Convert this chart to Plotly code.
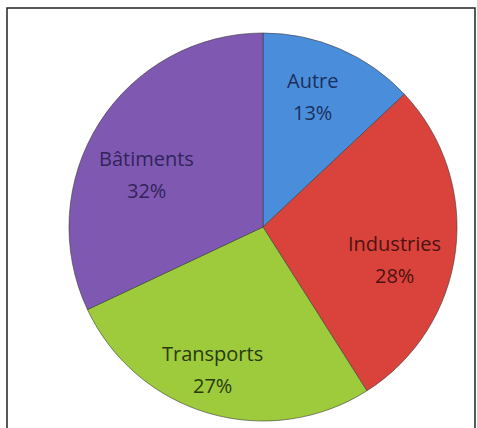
import math
import plotly.graph_objects as go

labels = ["Autre", "Industries", "Transports", "Bâtiments"]
values = [13, 28, 27, 32]
colors = ["#4a8edb", "#d9433b", "#9dcb3c", "#7f58b2"]
text_colors = ["#1b2f5c", "#4d1212", "#2b3a0e", "#32245a"]
label_radius = [0.72, 0.70, 0.78, 0.66]  # fraction of pie radius for text centre
label_nudge = [-2.5, 6.5, 3.4, -8.0]      # degrees off the slice mid-angle

W, H = 477, 428
cx, cy, r = 263, 227, 194

fig = go.Figure(go.Pie(
    labels=labels,
    values=values,
    sort=False,
    direction="clockwise",
    rotation=0,
    marker=dict(colors=colors, line=dict(color="rgba(60,60,60,0.6)", width=1)),
    textinfo="none",
    showlegend=False,
    hoverinfo="label+percent",
    domain=dict(x=[(cx - r) / W, (cx + r) / W], y=[(H - cy - r) / H, (H - cy + r) / H]),
))

total = sum(values)
annotations = []
cum = 0
for lab, v, tc, rf, nd in zip(labels, values, text_colors, label_radius, label_nudge):
    mid = (cum + v / 2) / total * 360 + nd
    cum += v
    th = math.radians(mid)
    px = cx + rf * r * math.sin(th)
    py = cy - rf * r * math.cos(th)
    pct = f"{round(v / total * 100)}%"
    for txt, dy in ((lab, 16), (pct, -16)):
        annotations.append(dict(
            x=px / W, y=1 - py / H, xref="paper", yref="paper",
            text=txt, showarrow=False, yshift=dy,
            xanchor="center", yanchor="middle",
            font=dict(family="Open Sans", size=20, color=tc, weight=500),
        ))

fig.update_layout(
    width=W, height=H,
    margin=dict(l=0, r=0, t=0, b=0),
    paper_bgcolor="white",
    annotations=annotations,
    shapes=[dict(type="rect", xref="paper", yref="paper",
                 x0=7 / W, x1=475 / W, y0=-0.1, y1=1 - 8 / H,
                 line=dict(color="#222222", width=1.5), layer="below")],
)

fig.write_html("out.html")
